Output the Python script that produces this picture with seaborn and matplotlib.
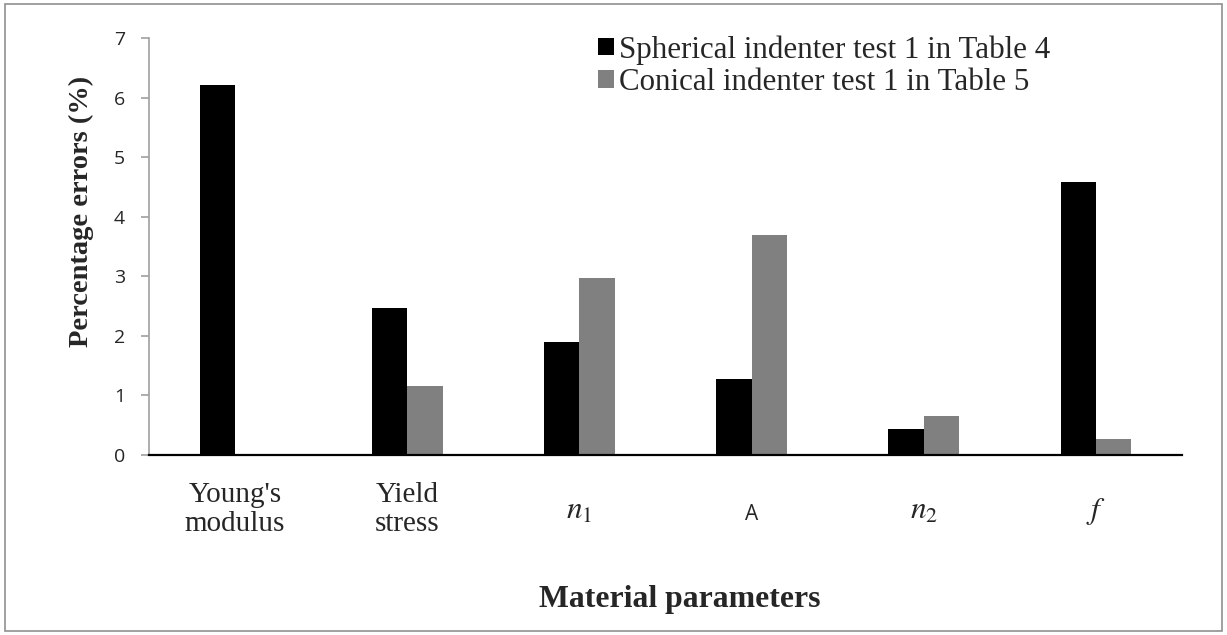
import pandas as pd
import numpy as np
import seaborn as sns
import matplotlib.pyplot as plt
from matplotlib.patches import Rectangle

params = ["Young's\nmodulus", "Yield\nstress", "$n_1$", "A", "$n_2$", "$f$"]
spherical = [6.21, 2.47, 1.90, 1.28, 0.44, 4.58]
conical = [0.02, 1.16, 2.97, 3.69, 0.66, 0.27]
seriesNames = ["Spherical indenter test 1 in Table 4", "Conical indenter test 1 in Table 5"]

df = pd.DataFrame({
    "param": params * 2,
    "value": spherical + conical,
    "series": [seriesNames[0]] * len(params) + [seriesNames[1]] * len(params),
})

sns.set_style("white")
plt.rcParams["mathtext.fontset"] = "stix"

fig = plt.figure(figsize=(12.27, 6.35), dpi=100)
ax = fig.add_axes([0.1214, 0.2835, 0.8419, 0.6565])

sns.barplot(ax=ax, data=df, x="param", y="value", hue="series", order=params,
            hue_order=seriesNames, palette=["#000000", "#808080"], width=0.41,
            gap=0, errorbar=None, saturation=1, linewidth=0)

ax.set_ylim(0, 7)
ax.set_xlim(-0.5, len(params) - 0.5)
ax.set_yticks(range(8))
ax.tick_params(axis="y", direction="out", length=5.8, color="#a0a0a0", width=1.2, left=True, pad=11.5)
ax.tick_params(axis="x", length=0, pad=19.4)
for lbl in ax.get_yticklabels():
    lbl.set_family("Open Sans")
    lbl.set_fontsize(14)
for lbl, txt in zip(ax.get_xticklabels(), params):
    if txt == "A":
        lbl.set_family("Open Sans")
        lbl.set_fontsize(15)
        lbl.set_y(-0.053)
    elif txt.startswith("$"):
        lbl.set_fontsize(22.5)
        lbl.set_y(-0.034)
    else:
        lbl.set_family("Liberation Serif")
        lbl.set_fontsize(21)
        lbl.set_linespacing(1.14)

ax.spines["top"].set_visible(False)
ax.spines["right"].set_visible(False)
ax.spines["left"].set_color("#a0a0a0")
ax.spines["left"].set_linewidth(1.2)
ax.spines["bottom"].set_color("black")
ax.spines["bottom"].set_linewidth(1.6)

ax.set_xlabel("Material parameters", family="Liberation Serif", fontsize=22.9,
              fontweight="bold")
ax.xaxis.set_label_coords(0.5134, -0.312)
ax.set_ylabel("Percentage errors (%)", family="Liberation Serif", fontsize=20.5,
              fontweight="bold")
ax.yaxis.set_label_coords(-0.053, 0.585)

ax.legend(loc="upper left", bbox_to_anchor=(0.4227, 1.037), frameon=False,
          prop={"family": "Liberation Serif", "size": 22.3}, handlelength=0.52,
          handleheight=0.5, handletextpad=0.15, labelspacing=0.12, borderaxespad=0)

fig.patches.append(Rectangle((0.004, 0.006), 0.992, 0.988, transform=fig.transFigure,
                             fill=False, edgecolor="#909090", linewidth=1.2))

fig.savefig("out.png", dpi=100)
